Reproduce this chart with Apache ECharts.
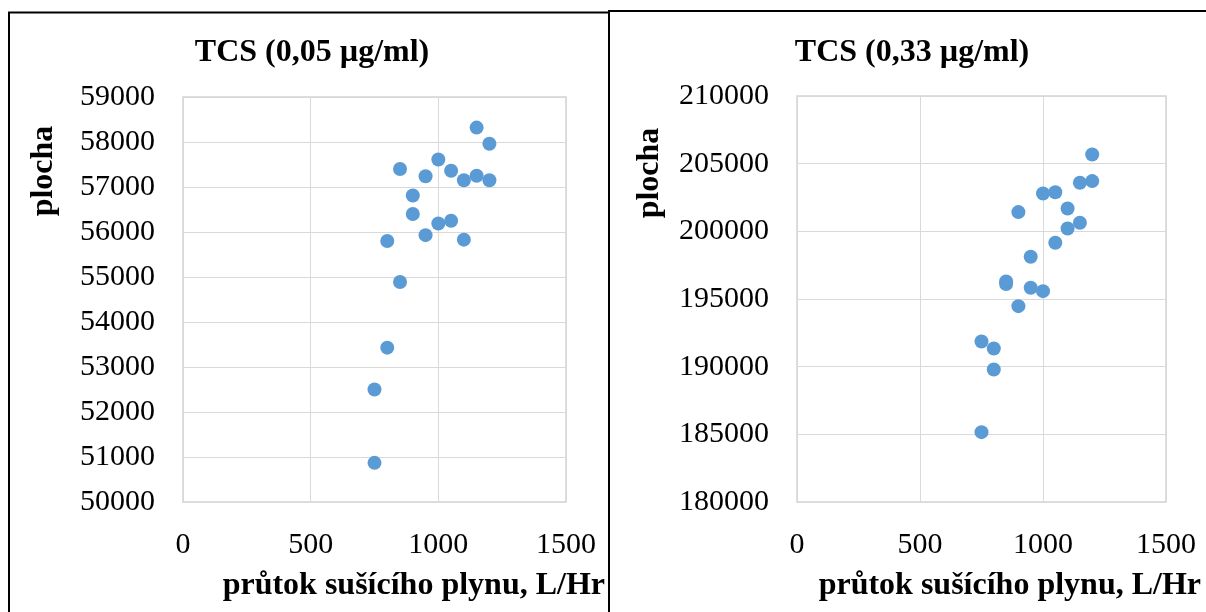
<!DOCTYPE html>
<html>
<head>
<meta charset="utf-8">
<script src="https://cdn.jsdelivr.net/npm/echarts@6/dist/echarts.min.js"></script>
<style>
  html, body { margin: 0; padding: 0; background: #fff; }
  #chart { width: 1206px; height: 612px; }
</style>
</head>
<body>
<div id="chart"></div>
<script>
// Peak area of TCS versus drying gas flow, two concentration levels.
const titleLow = 'TCS (0,05 µg/ml)';
const titleHigh = 'TCS (0,33 µg/ml)';
const xName = 'průtok sušícího plynu, L/Hr';
const yName = 'plocha';

// 0.05 µg/ml
const flowLow = [750, 750, 800, 800, 850, 850, 900, 900, 950, 950,
                 1000, 1000, 1050, 1050, 1100, 1100, 1150, 1150, 1200, 1200];
const areaLow = [50870, 52500, 53430, 55800, 54890, 57400, 56810, 56400, 57240, 55930,
                 57610, 56190, 57360, 56250, 57150, 55830, 58320, 57250, 57960, 57150];

// 0.33 µg/ml
const flowHigh = [750, 750, 800, 800, 850, 850, 900, 900, 950, 950,
                  1000, 1000, 1050, 1050, 1100, 1100, 1150, 1150, 1200, 1200];
const areaHigh = [191860, 185160, 191340, 189790, 196300, 196100, 201420, 194470, 198120, 195830,
                  202800, 195580, 202890, 199160, 201690, 200210, 203590, 200630, 205680, 203710];

// axis ranges
const xRange = { min: 0, max: 1500, step: 500 };
const yRangeLow = { min: 50000, max: 59000, step: 1000 };
const yRangeHigh = { min: 180000, max: 210000, step: 5000 };

const pairs = (xs, ys) => xs.map((x, i) => [x, ys[i]]);

const serif = 'Liberation Serif, Times New Roman, serif';
const gridLine = '#d9d9d9';
const dotColor = '#5b9bd5';
const plain = v => String(v);

function xAxisFor(gridIndex) {
  return {
    type: 'value', gridIndex,
    min: xRange.min, max: xRange.max, interval: xRange.step,
    axisLine: { show: false }, axisTick: { show: false },
    axisLabel: { color: '#000', fontFamily: serif, fontSize: 30, margin: 28, formatter: plain },
    splitLine: { show: true, lineStyle: { color: gridLine, width: 1 } }
  };
}
function yAxisFor(gridIndex, r) {
  return {
    type: 'value', gridIndex,
    min: r.min, max: r.max, interval: r.step,
    axisLine: { show: false }, axisTick: { show: false },
    axisLabel: { color: '#000', fontFamily: serif, fontSize: 30, margin: 28, formatter: plain },
    splitLine: { show: true, lineStyle: { color: gridLine, width: 1 } }
  };
}

const boldText = (text, x, y, align, rotation) => ({
  type: 'text', x, y, rotation: rotation || 0, silent: true,
  style: {
    text, fill: '#000',
    font: 'bold 32px ' + serif,
    textAlign: align || 'center', textVerticalAlign: 'middle'
  }
});

const chart = echarts.init(document.getElementById('chart'), null, { renderer: 'canvas' });
chart.setOption({
  animation: false,
  backgroundColor: '#fff',
  grid: [
    { left: 183, top: 97, width: 383, height: 405, show: true, borderColor: '#d4d4d4', borderWidth: 1.5 },
    { left: 797, top: 96, width: 369, height: 406, show: true, borderColor: '#d4d4d4', borderWidth: 1.5 }
  ],
  xAxis: [xAxisFor(0), xAxisFor(1)],
  yAxis: [yAxisFor(0, yRangeLow), yAxisFor(1, yRangeHigh)],
  series: [
    { type: 'scatter', xAxisIndex: 0, yAxisIndex: 0, data: pairs(flowLow, areaLow),
      symbolSize: 14, itemStyle: { color: dotColor, opacity: 1 } },
    { type: 'scatter', xAxisIndex: 1, yAxisIndex: 1, data: pairs(flowHigh, areaHigh),
      symbolSize: 14, itemStyle: { color: dotColor, opacity: 1 } }
  ],
  graphic: [
    // panel frames
    { type: 'rect', silent: true, shape: { x: 9, y: 12.5, width: 600, height: 640 },
      style: { fill: 'none', stroke: '#000', lineWidth: 2 } },
    { type: 'rect', silent: true, shape: { x: 609, y: 11, width: 640, height: 640 },
      style: { fill: 'none', stroke: '#000', lineWidth: 2 } },
    // chart titles
    boldText(titleLow, 312, 53),
    boldText(titleHigh, 912, 53),
    // axis names
    boldText(xName, 605, 586, 'right'),
    boldText(xName, 1201, 586, 'right'),
    boldText(yName, 44, 171, 'center', Math.PI / 2),
    boldText(yName, 650, 173, 'center', Math.PI / 2)
  ]
});
</script>
</body>
</html>
